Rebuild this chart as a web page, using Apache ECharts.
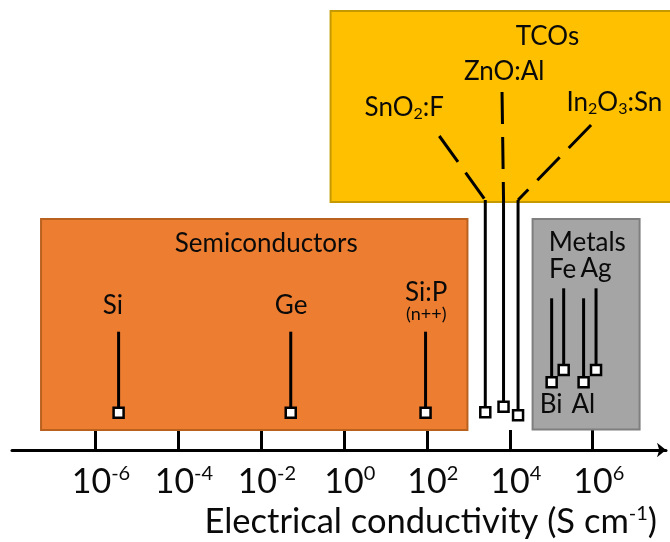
<!DOCTYPE html>
<html><head><meta charset="utf-8">
<script src="https://cdn.jsdelivr.net/npm/echarts@6/dist/echarts.min.js"></script>
<style>html,body{margin:0;padding:0;background:#fff}#c{width:670px;height:542px}</style>
</head><body><div id="c"></div>
<script>
// ---------------- DATA ----------------
const materials = ['Si', 'Ge', 'Si:P', 'SnO2:F', 'ZnO:Al', 'In2O3:Sn', 'Bi', 'Fe', 'Al', 'Ag'];
const materialNotes = ['', '', '(n++)', '', '', '', '', '', '', ''];
const log10Conductivity = [-5.43, -1.28, 1.97, 3.41, 3.85, 4.20, 5.01, 5.30, 5.78, 6.08];
const groupNames = ['Semiconductors', 'TCOs', 'Metals'];
const groupRangeLog10 = [[-7.30, 2.98], [-0.32, 8.6], [4.55, 7.13]];
const tickExponents = [-6, -4, -2, 0, 2, 4, 6];
const axisTitleText = 'Electrical conductivity (S cm';
const axisTitleExponent = '-1';

// ---------------- LAYOUT / STYLE (pixels above the axis line) ----------------
const FONT = 'Lato';
const TEXT = '#0a0a0a';
const groupFill = ['#ED7D31', '#FFC000', '#A5A5A5'];
const groupStroke = ['#B9611F', '#C49A00', '#7F7F7F'];
const groupBoxH = [[231, 20], [439, 248], [231, 20.5]];
const groupLabelPos = [[-1.87, 206.7], [4.91, 413], [5.87, 207.3]];
const markerH = [37.3, 37.3, 37.3, 37.7, 43.3, 34.7, 67.7, 80, 67.7, 80];
const stemTopH = [118.3, 118.3, 118.3, 250, 250, 250, 151.7, 161.7, 151.7, 161.7];
const connector = [null, null, null, [-46, 64], [-1.5, 108], [73, 75], null, null, null, null];
const labelDx = [-5.7, 0.4, 0.7, -81, 0.7, 96.3, -0.6, -1, -0.3, 0];
const labelH = [144.3, 144.3, 157, 342, 378, 347, 45, 180.7, 45, 181];
const noteH = 136;

function richName(name) {
  // digits become subscripts
  return name.replace(/(\d+)|([^\d]+)/g, (m, d, t) => d ? '{s|' + d + '}' : '{m|' + t + '}');
}

const chart = echarts.init(document.getElementById('c'), null, {renderer: 'canvas'});

const option = {
  animation: false,
  backgroundColor: '#ffffff',
  title: {
    text: '{t|' + axisTitleText + '}{e|' + axisTitleExponent + '}{t|)}',
    right: 13, top: 504, padding: 0,
    textStyle: {
      fontWeight: 'normal',
      rich: {
        t: {fontFamily: FONT, fontSize: 34.5, fontWeight: 'normal', color: TEXT, lineHeight: 36},
        e: {fontFamily: FONT, fontSize: 20, fontWeight: 'normal', color: TEXT, verticalAlign: 'top', lineHeight: 20}
      }
    }
  },
  grid: {left: 12, right: 4, top: 0, bottom: 92, containLabel: false},
  xAxis: {
    type: 'value', min: -8, max: -8 + 654 / 41.48,
    splitLine: {show: false},
    axisLine: {show: true, lineStyle: {color: '#000', width: 3}, symbol: ['none', 'arrow'], symbolSize: [11, 9]},
    axisTick: {show: true, inside: true, length: 20, customValues: tickExponents, lineStyle: {color: '#000', width: 3}},
    axisLabel: {
      show: true, margin: 14, customValues: tickExponents,
      padding: [0, 0, 0, 12],
      formatter: v => '{b|10}{s|' + v + '}',
      rich: {
        b: {fontFamily: FONT, fontSize: 34, color: TEXT, lineHeight: 36},
        s: {fontFamily: FONT, fontSize: 20, color: TEXT, verticalAlign: 'top', lineHeight: 20}
      }
    }
  },
  yAxis: {type: 'value', min: 0, max: 450, show: false},
  series: [
    {
      type: 'custom', silent: true, clip: false,
      encode: {x: [0, 1]},
      data: groupRangeLog10.map(r => [r[0], r[1]]),
      renderItem(params, api) {
        const i = params.dataIndex;
        const p0 = api.coord([api.value(0), groupBoxH[i][0]]);
        const p1 = api.coord([api.value(1), groupBoxH[i][1]]);
        const lp = api.coord(groupLabelPos[i]);
        return {
          type: 'group', children: [
            {type: 'rect', shape: {x: p0[0], y: p0[1], width: p1[0] - p0[0], height: p1[1] - p0[1]},
             style: {fill: groupFill[i], stroke: groupStroke[i], lineWidth: 2}},
            {type: 'text', x: lp[0], y: lp[1],
             style: {text: groupNames[i], fontFamily: FONT, fontSize: 26, fill: TEXT, align: 'center', verticalAlign: 'middle'}}
          ]
        };
      }
    },
    {
      type: 'custom', silent: true, clip: false,
      encode: {x: 0},
      data: log10Conductivity.map(v => [v]),
      renderItem(params, api) {
        const i = params.dataIndex;
        const x = api.value(0);
        const pm = api.coord([x, markerH[i]]);
        const pt = api.coord([x, stemTopH[i]]);
        const children = [];
        children.push({type: 'line', shape: {x1: pt[0], y1: pt[1], x2: pm[0], y2: pm[1]},
          style: {stroke: '#000', lineWidth: 3}});
        if (connector[i]) {
          children.push({type: 'polyline',
            shape: {points: [[pt[0] + connector[i][0], pt[1] - connector[i][1]], [pt[0], pt[1]]]},
            style: {stroke: '#000', lineWidth: 3, lineDash: [32, 13], fill: 'none'}});
        }
        children.push({type: 'rect', shape: {x: pm[0] - 5, y: pm[1] - 5, width: 10, height: 10},
          style: {fill: '#fff', stroke: '#000', lineWidth: 2.5}});
        const ly = api.coord([x, labelH[i]])[1];
        children.push({type: 'text', x: pm[0] + labelDx[i], y: ly,
          style: {text: richName(materials[i]), align: 'center', verticalAlign: 'middle',
            rich: {
              m: {fontFamily: FONT, fontSize: 26, fill: TEXT, color: TEXT, lineHeight: 28},
              s: {fontFamily: FONT, fontSize: 16, fill: TEXT, color: TEXT, verticalAlign: 'bottom', lineHeight: 16, padding: [8, 0, 0, 0]}
            }}});
        if (materialNotes[i]) {
          const ny = api.coord([x, noteH])[1];
          children.push({type: 'text', x: pm[0] + labelDx[i], y: ny,
            style: {text: materialNotes[i], fontFamily: FONT, fontSize: 18, fill: TEXT, align: 'center', verticalAlign: 'middle'}});
        }
        return {type: 'group', children};
      }
    }
  ]
};
chart.setOption(option);
</script>
</body></html>
